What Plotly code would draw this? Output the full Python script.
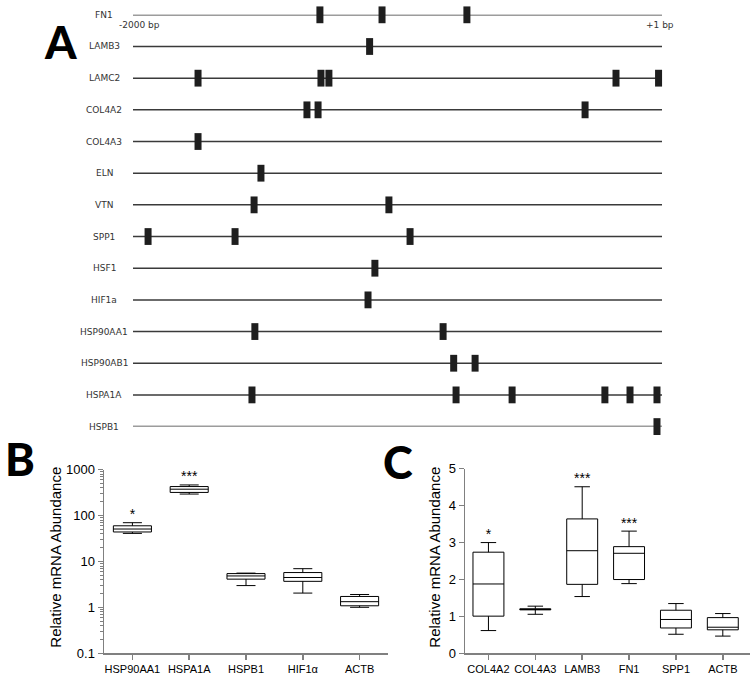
import plotly.graph_objects as go

# ---------------- Data ----------------
# Panel A: promoter regions (-2000 bp to +1 bp) with binding-site positions (bp)
genes_A = ["FN1", "LAMB3", "LAMC2", "COL4A2", "COL4A3", "ELN", "VTN", "SPP1",
           "HSF1", "HIF1a", "HSP90AA1", "HSP90AB1", "HSPA1A", "HSPB1"]
sites_A = [
    [-1293, -1058, -737],
    [-1105],
    [-1754, -1289, -1259, -173, -12],
    [-1342, -1300, -290],
    [-1754],
    [-1516],
    [-1542, -1032],
    [-1943, -1614, -952],
    [-1085],
    [-1111],
    [-1539, -827],
    [-787, -706],
    [-1550, -778, -566, -215, -120, -18],
    [-18],
]
START_BP = -2000
END_BP = 1

# Panel B: heat-shock genes (log scale)
B_cats = ["HSP90AA1", "HSPA1A", "HSPB1", "HIF1α", "ACTB"]
B_low = [41, 294, 3.0, 2.06, 1.01]
B_q1 = [44, 319, 4.14, 3.71, 1.09]
B_med = [51, 375, 4.86, 4.5, 1.34]
B_q3 = [60, 428, 5.47, 5.76, 1.74]
B_high = [70, 464, 5.6, 7.0, 1.92]
B_sig = ["*", "***", "", "", ""]
B_yticks = [0.1, 1, 10, 100, 1000]
B_yticktext = ["0.1", "1", "10", "100", "1000"]

# Panel C: ECM genes
C_cats = ["COL4A2", "COL4A3", "LAMB3", "FN1", "SPP1", "ACTB"]
C_low = [0.62, 1.06, 1.54, 1.89, 0.52, 0.47]
C_q1 = [1.01, 1.18, 1.87, 2.00, 0.69, 0.64]
C_med = [1.88, 1.19, 2.78, 2.71, 0.92, 0.71]
C_q3 = [2.74, 1.21, 3.64, 2.89, 1.17, 0.97]
C_high = [3.0, 1.28, 4.51, 3.31, 1.35, 1.08]
C_sig = ["*", "", "***", "***", "", ""]
C_yticks = [0, 1, 2, 3, 4, 5]

# ---------------- Layout helpers ----------------
W, H = 750, 683
def px(x):
    return x / W
def py(y):
    return 1 - y / H

AX_COLOR = "#808080"
ARIAL = "Liberation Sans, Arial, sans-serif"
VERD = "DejaVu Sans, Verdana, sans-serif"

fig = go.Figure()

# ---------------- Panel A ----------------
for i, g in enumerate(genes_A):
    fig.add_trace(go.Scatter(
        x=[START_BP, END_BP], y=[i, i], mode="lines",
        line=dict(color="#3a3a3a", width=1.5),
        xaxis="x", yaxis="y", showlegend=False, hoverinfo="skip"))

sx, sy = [], []
for i, s in enumerate(sites_A):
    for v in s:
        sx.append(v)
        sy.append(i)
fig.add_trace(go.Scatter(
    x=sx, y=sy, mode="markers",
    marker=dict(symbol="line-ns", size=12, color="#1e1e1e",
                line=dict(color="#1e1e1e", width=7)),
    xaxis="x", yaxis="y", showlegend=False, cliponaxis=False, hoverinfo="skip"))

annotations = []
for i, g in enumerate(genes_A):
    annotations.append(dict(
        x=px(104), xref="paper", y=i, yref="y", text=g, showarrow=False,
        xanchor="center", yanchor="middle",
        font=dict(family=VERD, size=9, color="#333333")))
annotations.append(dict(x=px(139), xref="paper", y=py(18), yref="paper",
                        text="-2000 bp", showarrow=False, xanchor="center", yanchor="middle",
                        font=dict(family=VERD, size=9, color="#333333")))
annotations.append(dict(x=px(660), xref="paper", y=py(18), yref="paper",
                        text="+1 bp", showarrow=False, xanchor="center", yanchor="middle",
                        font=dict(family=VERD, size=9, color="#333333")))

# ---------------- Panel B ----------------
fig.add_trace(go.Box(
    x=B_cats, q1=B_q1, median=B_med, q3=B_q3, lowerfence=B_low, upperfence=B_high,
    width=0.67, whiskerwidth=0.5, fillcolor="white",
    line=dict(color="black", width=1), xaxis="x2", yaxis="y2",
    showlegend=False, hoverinfo="skip"))
bx = [c for c, s in zip(B_cats, B_sig) if s]
by = [h for h, s in zip(B_high, B_sig) if s]
bt = [s for s in B_sig if s]
fig.add_trace(go.Scatter(
    x=bx, y=by, text=bt, mode="text", textposition="top center",
    textfont=dict(family=ARIAL, size=14, color="black"),
    xaxis="x2", yaxis="y2", showlegend=False, cliponaxis=False, hoverinfo="skip"))

# ---------------- Panel C ----------------
fig.add_trace(go.Box(
    x=C_cats, q1=C_q1, median=C_med, q3=C_q3, lowerfence=C_low, upperfence=C_high,
    width=0.66, whiskerwidth=0.5, fillcolor="white",
    line=dict(color="black", width=1), xaxis="x3", yaxis="y3",
    showlegend=False, hoverinfo="skip"))
cx = [c for c, s in zip(C_cats, C_sig) if s]
cy = [h for h, s in zip(C_high, C_sig) if s]
ct = [s for s in C_sig if s]
fig.add_trace(go.Scatter(
    x=cx, y=cy, text=ct, mode="text", textposition="top center",
    textfont=dict(family=ARIAL, size=14, color="black"),
    xaxis="x3", yaxis="y3", showlegend=False, cliponaxis=False, hoverinfo="skip"))

# Y titles and panel letters
annotations.append(dict(x=px(56), xref="paper", y=py(563), yref="paper",
                        text="Relative mRNA Abundance", textangle=-90, showarrow=False,
                        xanchor="center", yanchor="middle",
                        font=dict(family=ARIAL, size=15, color="black")))
annotations.append(dict(x=px(435), xref="paper", y=py(562), yref="paper",
                        text="Relative mRNA Abundance", textangle=-90, showarrow=False,
                        xanchor="center", yanchor="middle",
                        font=dict(family=ARIAL, size=15, color="black")))
for letter, lx, ly in [("A", 60, 36), ("B", 20, 462), ("C", 398, 465)]:
    annotations.append(dict(x=px(lx), xref="paper", y=py(ly), yref="paper",
                            text=letter, showarrow=False, xanchor="center", yanchor="middle",
                            font=dict(family="Lato, DejaVu Sans, sans-serif", size=45,
                                      color="black", weight=900)))

axis_common = dict(showline=True, linecolor=AX_COLOR, linewidth=1.5, ticks="outside",
                   tickcolor=AX_COLOR, tickwidth=1.5, ticklen=5, showgrid=False,
                   zeroline=False, fixedrange=True)

fig.update_layout(
    width=W, height=H, margin=dict(l=0, r=0, t=0, b=0),
    paper_bgcolor="white", plot_bgcolor="white",
    boxmode="overlay",
    xaxis=dict(domain=[px(133), px(662)], range=[START_BP, END_BP], visible=False,
               anchor="y"),
    yaxis=dict(domain=[py(429), py(8)], range=[13, 0], visible=False, anchor="x"),
    xaxis2=dict(domain=[px(104), px(388)], range=[-0.5, 4.5], anchor="y2",
                type="category", categoryorder="array", categoryarray=B_cats,
                tickfont=dict(family=ARIAL, size=11, color="black"), **axis_common),
    yaxis2=dict(domain=[py(661), py(473)], type="log", range=[-1, 3], anchor="x2",
                tickvals=B_yticks, ticktext=B_yticktext,
                tickfont=dict(family=ARIAL, size=13, color="black"),
                minor=dict(ticks="outside", ticklen=3, tickcolor=AX_COLOR, tickwidth=1,
                           dtick="D1", showgrid=False),
                **axis_common),
    xaxis3=dict(domain=[px(465), 1.0], range=[-0.5, 5.58], anchor="y3",
                type="category", categoryorder="array", categoryarray=C_cats,
                tickfont=dict(family=ARIAL, size=11, color="black"), **axis_common),
    yaxis3=dict(domain=[py(661), py(472)], range=[0, 5], anchor="x3",
                tickvals=C_yticks,
                tickfont=dict(family=ARIAL, size=13, color="black"), **axis_common),
    annotations=annotations,
)

fig.write_html("out.html",
               config={"displayModeBar": False, "staticPlot": True},
               post_script="document.body.style.margin='0';"
                           "document.body.style.overflow='hidden';")
